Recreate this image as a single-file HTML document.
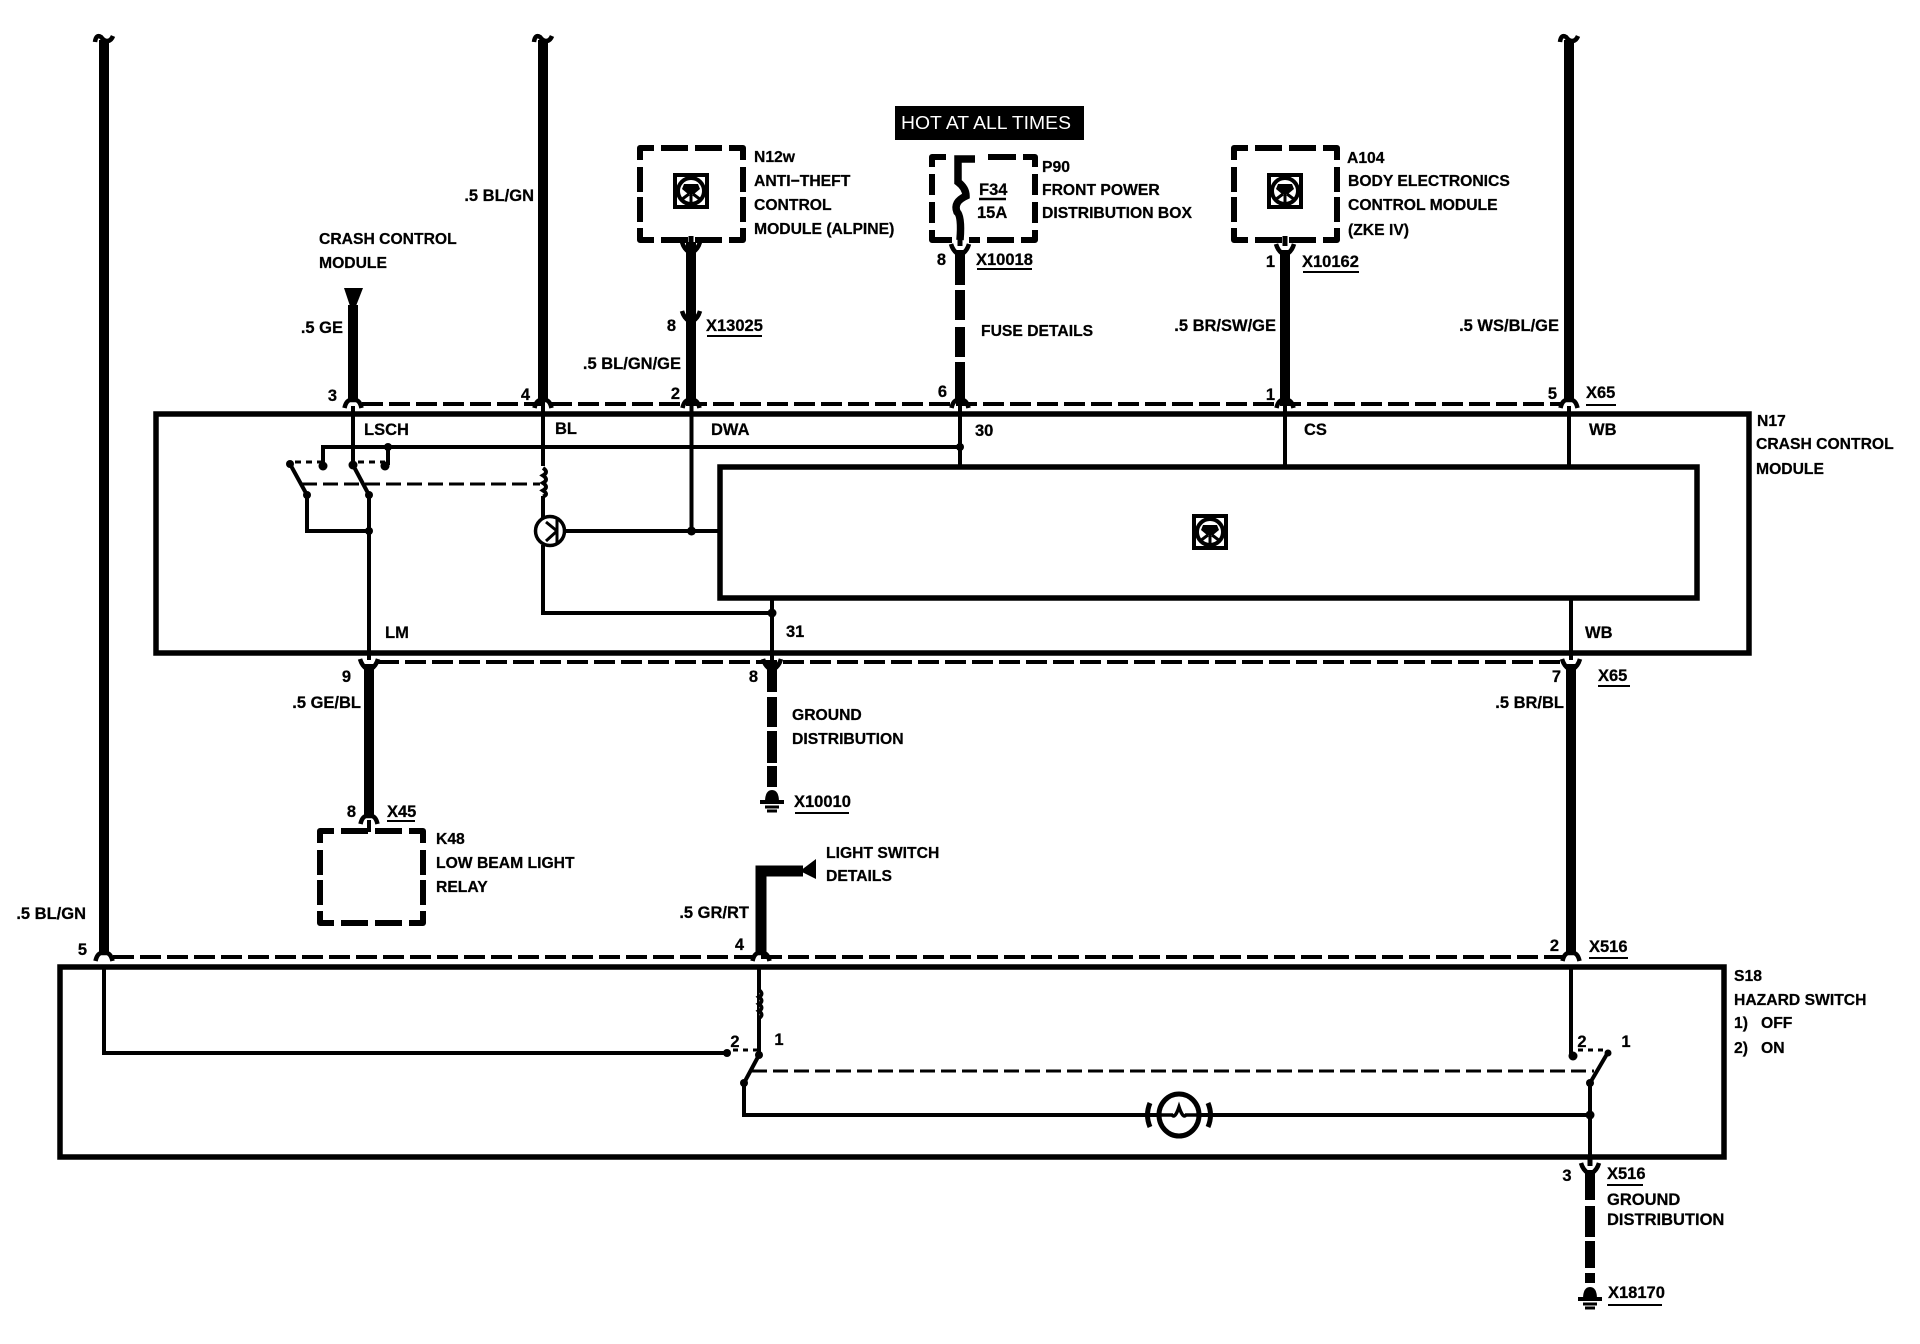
<!DOCTYPE html>
<html><head><meta charset="utf-8"><style>
html,body{margin:0;padding:0;background:#fff}
svg{display:block}
text{font-family:"Liberation Sans",sans-serif;font-weight:bold;font-size:16.5px;fill:#000;stroke:#000;stroke-width:.25}
text.n{font-size:15.7px}
.e{text-anchor:end}.m{text-anchor:middle}
.w{fill:none;stroke:#000;stroke-width:10}
.t{fill:none;stroke:#000;stroke-width:4}
.box{fill:none;stroke:#000;stroke-width:5.5}
.dl{fill:none;stroke:#000;stroke-width:4;stroke-dasharray:21 6}
.dd{fill:none;stroke:#000;stroke-width:3;stroke-dasharray:15 6}
.db{fill:none;stroke:#000;stroke-width:6;stroke-linejoin:round}
.u{fill:none;stroke:#000;stroke-width:2}
</style></head><body>
<svg width="1920" height="1344" viewBox="0 0 1920 1344" xmlns="http://www.w3.org/2000/svg">
<defs>
<g id="fy"><path d="M-9,-5 Q-7,2 -2,5 L-2,9 L2,9 L2,5 Q7,2 9,-5" fill="none" stroke="#000" stroke-width="4.5"/></g>
<g id="fa"><path d="M-8.5,4 Q-7,-3 -3,-4 L3,-4 Q7,-3 8.5,4" fill="none" stroke="#000" stroke-width="4.5"/></g>
<g id="sq"><path d="M-9,6 Q-8,-2 -3,1 Q0,5 3,5 Q7,5 9,0" fill="none" stroke="#000" stroke-width="4.5"/></g>
<g id="ic"><rect x="-16" y="-16" width="32" height="32" fill="#fff" stroke="#000" stroke-width="4"/>
<circle cx="0" cy="0" r="13" fill="none" stroke="#000" stroke-width="4"/>
<path d="M-7,-7 H7 L9,-2 L3,3 H-3 L-9,-2 Z" fill="#000"/><path d="M0,2 V14 M-2,3 L-10,9 M2,3 L10,9" stroke="#000" stroke-width="3" fill="none"/></g>
<g id="gnd"><path d="M-7,12 Q-7,0 0,0 Q7,0 7,12 Z" fill="#000"/><path d="M-12,12 H12" stroke="#000" stroke-width="4"/><path d="M-7,17 H7" stroke="#000" stroke-width="3"/><path d="M-5,21 H5" stroke="#000" stroke-width="3"/></g>
<path id="db92" class="db" d="M0,12 V0 H14 M21,0 H48 M55,0 H82 M89,0 H103 V12 M103,19 V44 M103,49 V74 M103,80 V92 H89 M82,92 H55 M48,92 H21 M14,92 H0 V80 M0,74 V49 M0,44 V19"/>
</defs>

<!-- module boxes -->
<rect class="box" x="156" y="414" width="1593" height="239"/>
<rect class="box" x="720" y="467" width="977" height="131" stroke-width="5"/>
<rect class="box" x="60" y="967" width="1664" height="190"/>

<!-- dashed connector lines -->
<path class="dl" d="M362,404 H1562"/>
<path class="dl" d="M378,662 H1563"/>
<path class="dl" d="M113,957 H1563"/>

<!-- main heavy wires -->
<path class="w" d="M104,40 V955"/>
<path class="w" d="M543,40 V402"/>
<path class="w" d="M1569,40 V402" stroke-width="11"/>
<path class="w" d="M353,305 V402" stroke-width="9"/>
<path d="M344,288 H363 L356,306 H350 Z" fill="#000"/>
<path class="w" d="M691,242 V402" stroke-width="9"/>
<path class="w" d="M960,250 V285 M960,290 V320 M960,327 V357 M960,362 V402"/>
<path class="w" d="M1285,250 V402" stroke-width="9"/>
<path class="w" d="M369,664 V818"/>
<path class="w" d="M772,664 V692 M772,697 V727 M772,731 V763 M772,766 V787"/>
<path class="w" d="M1571,664 V955"/>
<path d="M761,955 V871 H803" fill="none" stroke="#000" stroke-width="11"/>
<path d="M800,871 L816,859 V879 Z" fill="#000"/>
<path class="w" d="M1590,1170 V1200 M1590,1206 V1237 M1590,1241 V1268 M1590,1273 V1283"/>

<use href="#sq" x="104" y="36"/><use href="#sq" x="543" y="36"/><use href="#sq" x="1569" y="36"/>

<!-- connector forks -->
<use href="#fa" x="353" y="404"/><use href="#fa" x="543" y="404"/><use href="#fa" x="691" y="404"/><use href="#fa" x="960" y="404"/><use href="#fa" x="1285" y="404"/><use href="#fa" x="1569" y="404"/>
<use href="#fy" x="369" y="664"/><use href="#fy" x="772" y="664"/><use href="#fy" x="1571" y="664"/>
<use href="#fa" x="104" y="957"/><use href="#fa" x="761" y="957"/><use href="#fa" x="1571" y="957"/>
<use href="#fy" x="691" y="247"/><use href="#fy" x="691" y="316"/><use href="#fy" x="960" y="249"/><use href="#fy" x="1285" y="249"/>
<use href="#fa" x="369" y="820"/>
<use href="#fy" x="1590" y="1168"/>
<path d="M369,820 V832" stroke="#000" stroke-width="4"/>
<path d="M691,236 V246 M960,236 V246 M1285,236 V246 M1590,1155 V1166" stroke="#000" stroke-width="5"/>

<!-- dashed device boxes -->
<use href="#db92" x="640" y="148"/>
<use href="#db92" x="1234" y="148"/>
<use href="#db92" x="320" y="831"/>
<path class="db" d="M932,167 V157 H946 M988,157 H1016 M1023,157 H1035 V167 M1035,174 V195 M1035,202 V223 M1035,230 V240 H1021 M1014,240 H987 M980,240 H969 M952,240 H932 V230 M932,223 V202 M932,195 V174"/>

<use href="#ic" x="691" y="191"/><use href="#ic" x="1285" y="191"/><use href="#ic" x="1210" y="532"/>

<!-- fuse -->
<path d="M975,159 H958 V182 Q966,188 966,196 Q953,202 957,212 Q962,216 960,240" fill="none" stroke="#000" stroke-width="7.5"/>
<path d="M979,199 H1006" stroke="#000" stroke-width="2.5"/>

<!-- N17 internals -->
<path class="t" d="M353,406 V465" stroke-width="3"/>
<path class="t" d="M543,406 V466 M543,496 V520 M543,545 V613 H772" />
<path d="M543,468 q6,4 0,7.5 q6,4 0,7.5 q6,4 0,7.5 q6,4 0,6" fill="none" stroke="#000" stroke-width="4"/>
<circle cx="550" cy="531" r="14.5" fill="#fff" stroke="#000" stroke-width="3.5"/>
<path d="M557,518 V544 M557,531 L546,522 M557,531 L546,541" fill="none" stroke="#000" stroke-width="3"/>
<path class="t" d="M691.5,406 V531" stroke-width="5"/>
<path class="t" d="M564,531 H720" stroke-width="3"/>
<path class="t" d="M323,465 V447 H960" stroke-width="3.5"/>
<path class="t" d="M388,447 V465" stroke-width="3.5"/>
<path class="t" d="M960,406 V465" stroke-width="3"/>
<path class="t" d="M1285,406 V465" stroke-width="3"/>
<path class="t" d="M1569,406 V465" stroke-width="4"/>
<path class="t" d="M1571,600 V660" stroke-width="5"/>
<path class="t" d="M772,600 V660" stroke-width="4"/>
<path class="t" d="M369,495 V600" stroke-width="5.5"/>
<path class="t" d="M369,600 V660" stroke-width="3.5"/>
<path class="t" d="M307,495 V531 H369" stroke-width="3"/>
<path class="t" d="M290,464 L307,495 M353,465 L369,495" stroke-width="4.5"/>
<path d="M295,462 H323 M358,462 H385" fill="none" stroke="#000" stroke-width="3" stroke-dasharray="6 5"/>
<path class="dd" d="M302,484 H540"/>
<g fill="#000">
<circle cx="323" cy="466" r="4.5"/><circle cx="385" cy="466" r="4.5"/><circle cx="388" cy="447" r="4"/><circle cx="290" cy="464" r="4"/><circle cx="353" cy="465" r="4.5"/><circle cx="307" cy="495" r="4"/><circle cx="369" cy="495" r="4"/><circle cx="369" cy="531" r="4"/><circle cx="691.5" cy="531" r="4.5"/><circle cx="772" cy="613" r="4.5"/><circle cx="960" cy="447" r="4"/>
</g>

<!-- S18 internals -->
<path class="t" d="M104,965 V1053 H727" stroke-width="3.5"/>
<path class="t" d="M759,965 V1055" stroke-width="3.5"/>
<path d="M759,990 q5,4 0,7 q5,4 0,7 q5,4 0,7 q5,4 0,7" fill="#fff" stroke="#000" stroke-width="4"/>
<path class="t" d="M1571,965 V1056" stroke-width="3.5"/>
<path class="t" d="M759,1055 L744,1083 V1115 H1158 M1200,1115 H1590" stroke-width="4"/>
<path class="t" d="M1607,1054 L1590,1083 V1155" stroke-width="4"/>
<path d="M733,1050 H757 M1578,1050 H1604" fill="none" stroke="#000" stroke-width="3" stroke-dasharray="5 5"/>
<path class="dd" d="M752,1071 H1594"/>
<g fill="#000"><circle cx="727" cy="1053" r="4"/><circle cx="759" cy="1055" r="4"/><circle cx="744" cy="1083" r="4"/><circle cx="1573" cy="1056" r="4.5"/><circle cx="1608" cy="1053" r="3.5"/><circle cx="1590" cy="1083" r="4"/><circle cx="1590" cy="1115" r="4.5"/></g>
<ellipse cx="1179" cy="1115" rx="20" ry="21" fill="#fff" stroke="#000" stroke-width="5"/>
<path d="M1155,1115 H1172 Q1175,1119 1179,1107 Q1183,1119 1186,1115 H1203" fill="none" stroke="#000" stroke-width="3.5"/>
<path d="M1150,1103 Q1145,1115 1150,1127 M1208,1103 Q1213,1115 1208,1127" fill="none" stroke="#000" stroke-width="5"/>

<!-- ground symbols -->
<use href="#gnd" x="772" y="790"/><use href="#gnd" x="1590" y="1287"/>

<!-- HOT label -->
<rect x="895" y="106" width="189" height="34" fill="#000"/>
<text x="901" y="129" textLength="170" lengthAdjust="spacingAndGlyphs" style="fill:#fff;stroke:none;font-weight:normal;font-size:18.5px">HOT AT ALL TIMES</text>

<!-- labels -->
<text class="e" x="534" y="201">.5 BL/GN</text>
<text class="n" x="319" y="244">CRASH CONTROL</text><text class="n" x="319" y="268">MODULE</text>
<text class="e" x="343" y="333">.5 GE</text>
<text class="e" x="337" y="401">3</text><text class="e" x="530" y="400">4</text><text class="e" x="680" y="399">2</text><text class="e" x="947" y="397">6</text><text class="e" x="1275" y="400">1</text><text class="e" x="1557" y="399">5</text>
<text x="1586" y="398">X65</text><path class="u" d="M1586,405 H1616"/>
<text class="e" x="681" y="369">.5 BL/GN/GE</text>
<text class="e" x="676" y="331">8</text><text x="706" y="331">X13025</text><path class="u" d="M707,336 H762"/>
<text class="n" x="754" y="162">N12w</text><text class="n" x="754" y="186">ANTI−THEFT</text><text class="n" x="754" y="210">CONTROL</text><text class="n" x="754" y="234">MODULE (ALPINE)</text>
<text class="n" x="1042" y="172">P90</text><text class="n" x="1042" y="195">FRONT POWER</text><text class="n" x="1042" y="218">DISTRIBUTION BOX</text>
<text x="979" y="195">F34</text><text x="977" y="218">15A</text>
<text class="e" x="946" y="265">8</text><text x="976" y="265">X10018</text><path class="u" d="M977,269 H1032"/>
<text class="n" x="981" y="336">FUSE DETAILS</text>
<text class="n" x="1347" y="163">A104</text><text class="n" x="1348" y="186">BODY ELECTRONICS</text><text class="n" x="1348" y="210">CONTROL MODULE</text><text class="n" x="1348" y="235">(ZKE IV)</text>
<text class="e" x="1275" y="267">1</text><text x="1302" y="267">X10162</text><path class="u" d="M1303,272 H1359"/>
<text class="e" x="1276" y="331">.5 BR/SW/GE</text>
<text class="e" x="1559" y="331">.5 WS/BL/GE</text>
<text class="n" x="1757" y="426">N17</text><text class="n" x="1756" y="449">CRASH CONTROL</text><text class="n" x="1756" y="474">MODULE</text>
<text x="364" y="435">LSCH</text><text x="555" y="434">BL</text><text x="711" y="435">DWA</text><text x="975" y="436">30</text><text x="1304" y="435">CS</text><text x="1589" y="435">WB</text>
<text x="385" y="638">LM</text><text x="786" y="637">31</text><text x="1585" y="638">WB</text>
<text class="e" x="351" y="682">9</text><text class="e" x="758" y="682">8</text><text class="e" x="1561" y="682">7</text>
<text x="1598" y="681">X65</text><path class="u" d="M1598,686 H1630"/>
<text class="e" x="361" y="708">.5 GE/BL</text><text class="e" x="1564" y="708">.5 BR/BL</text>
<text class="n" x="792" y="720">GROUND</text><text class="n" x="792" y="744">DISTRIBUTION</text>
<text x="794" y="807">X10010</text><path class="u" d="M795,813 H849"/>
<text class="e" x="356" y="817">8</text><text x="387" y="817">X45</text><path class="u" d="M387,821 H415"/>
<text class="n" x="436" y="844">K48</text><text class="n" x="436" y="868">LOW BEAM LIGHT</text><text class="n" x="436" y="892">RELAY</text>
<text class="n" x="826" y="858">LIGHT SWITCH</text><text class="n" x="826" y="881">DETAILS</text>
<text class="e" x="749" y="918">.5 GR/RT</text>
<text class="e" x="744" y="950">4</text><text class="e" x="87" y="955">5</text>
<text class="e" x="86" y="919">.5 BL/GN</text>
<text class="e" x="1559" y="951">2</text><text x="1589" y="952">X516</text><path class="u" d="M1589,958 H1628"/>
<text class="n" x="1734" y="981">S18</text><text class="n" x="1734" y="1005">HAZARD SWITCH</text><text class="n" x="1734" y="1028">1)&#160;&#160;&#160;OFF</text><text class="n" x="1734" y="1053">2)&#160;&#160;&#160;ON</text>
<text class="m" x="735" y="1047">2</text><text class="m" x="779" y="1045">1</text><text class="m" x="1582" y="1047">2</text><text class="m" x="1626" y="1047">1</text>
<text class="m" x="1567" y="1181">3</text><text x="1607" y="1179">X516</text><path class="u" d="M1607,1185 H1643"/>
<text x="1607" y="1205">GROUND</text><text x="1607" y="1225">DISTRIBUTION</text>
<text x="1608" y="1298">X18170</text><path class="u" d="M1608,1305 H1662"/>
</svg>
</body></html>
